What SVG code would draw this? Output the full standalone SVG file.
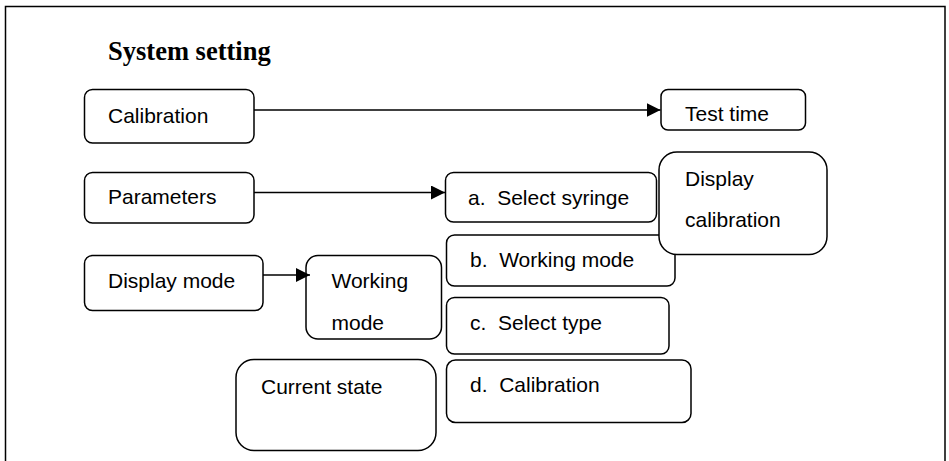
<svg xmlns="http://www.w3.org/2000/svg" width="949" height="461" viewBox="0 0 949 461">
<style>
.box{fill:#fff;stroke:#000;stroke-width:1.5}
.t{font-family:"Liberation Sans",Arial,sans-serif;font-size:21px;fill:#000}
.title{font-family:"Liberation Serif","Times New Roman",serif;font-size:26.5px;font-weight:bold;fill:#000}
.conn{stroke:#000;stroke-width:1.5;fill:none}
</style>
<defs>
<marker id="arr" markerWidth="15" markerHeight="14" refX="14" refY="7" orient="auto" markerUnits="userSpaceOnUse">
<path d="M0,0 L14,7 L0,14 Z" fill="#000"/>
</marker>
</defs>
<rect width="949" height="461" fill="#fff"/>
<path d="M5.5,462 V6.5 H945 V462" fill="none" stroke="#000" stroke-width="1.5"/>
<text class="title" x="108" y="59.5">System setting</text>

<g id="calibration"><rect class="box" x="84.5" y="89.5" width="169.5" height="53.5" rx="8"/><text class="t" x="108" y="123">Calibration</text></g>
<g id="test-time"><rect class="box" x="661" y="89.5" width="144.5" height="40.5" rx="7"/><text class="t" x="685" y="120.5">Test time</text></g>
<g id="parameters"><rect class="box" x="84.5" y="172.5" width="169.5" height="50.5" rx="8"/><text class="t" x="108" y="204">Parameters</text></g>
<g id="select-syringe"><rect class="box" x="445.5" y="172.5" width="211" height="49.5" rx="8"/><text class="t" x="468" y="205" xml:space="preserve">a.  Select syringe</text></g>
<g id="working-mode-b"><rect class="box" x="446.5" y="235" width="228.5" height="51" rx="8"/><text class="t" x="470" y="267" xml:space="preserve">b.  Working mode</text></g>
<g id="display-calibration"><rect class="box" x="659" y="152" width="168" height="102.5" rx="18"/><text class="t" x="685" y="186">Display</text><text class="t" x="685" y="227">calibration</text></g>
<g id="display-mode"><rect class="box" x="84.5" y="255.5" width="178.5" height="55" rx="8"/><text class="t" x="108" y="288">Display mode</text></g>
<g id="working-mode"><rect class="box" x="306" y="255.5" width="135.5" height="83.5" rx="12"/><text class="t" x="331.5" y="288">Working</text><text class="t" x="331.5" y="330">mode</text></g>
<g id="select-type"><rect class="box" x="446.5" y="297.5" width="222.5" height="56.5" rx="8"/><text class="t" x="470" y="330" xml:space="preserve">c.  Select type</text></g>
<g id="current-state"><rect class="box" x="236" y="359.5" width="200" height="91" rx="18"/><text class="t" x="261" y="394">Current state</text></g>
<g id="calibration-d"><rect class="box" x="446.5" y="360" width="244.5" height="62.5" rx="9"/><text class="t" x="470" y="392" xml:space="preserve">d.  Calibration</text></g>

<g id="connectors">
<line class="conn" x1="254" y1="110" x2="660.5" y2="110" marker-end="url(#arr)"/>
<line class="conn" x1="254" y1="192.5" x2="445" y2="192.5" marker-end="url(#arr)"/>
<line class="conn" x1="263" y1="275" x2="310" y2="275" marker-end="url(#arr)"/>
</g>
</svg>
